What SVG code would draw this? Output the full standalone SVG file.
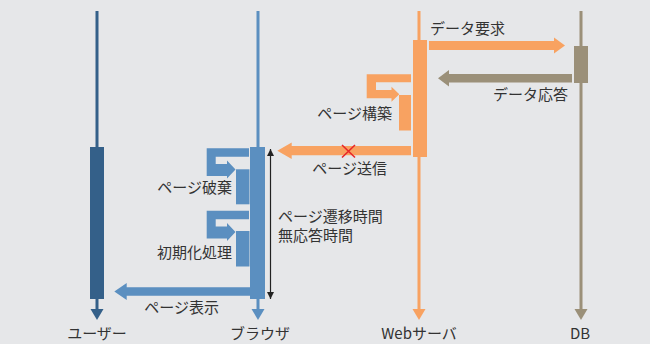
<svg xmlns="http://www.w3.org/2000/svg" width="650" height="344" viewBox="0 0 650 344">
<style>
.t{font-family:"Noto Sans CJK JP","Noto Sans",sans-serif;font-size:15px;fill:#333}
.user{fill:#346089}.userL{stroke:#346089}
.br{fill:#5b8fc0}.brL{stroke:#5b8fc0}
.web{fill:#f8a261}.webL{stroke:#f8a261}
.db{fill:#9b9079}.dbL{stroke:#9b9079}
.life{stroke-width:3;fill:none}
</style>
<defs>
<marker id="bk" viewBox="0 0 10 10" refX="10" refY="5" markerWidth="7" markerHeight="7" markerUnits="userSpaceOnUse" orient="auto-start-reverse"><path d="M0,0 L10,5 L0,10 Z" fill="#222"/></marker>
</defs>
<rect width="650" height="344" fill="#e6e7e9"/>
<g id="user">
<line class="life userL" x1="97" y1="11" x2="97" y2="311"/>
<polygon class="user" points="90.5,309 103.5,309 97,320"/>
<rect class="user" x="90" y="147" width="14" height="152"/>
<text class="t" x="97" y="339" text-anchor="middle">ユーザー</text>
</g>
<g id="browser">
<line class="life brL" x1="258" y1="11" x2="258" y2="311"/>
<polygon class="br" points="251.5,309 264.5,309 258,320"/>
<rect class="br" x="250" y="147" width="15" height="152"/>
<path class="br" d="M249,148.3 H206.7 V176 H227 V178.5 L235.5,169.5 L227,160.5 V164 H215.7 V156.7 H249 Z"/>
<rect class="br" x="236" y="169.3" width="13.5" height="35"/>
<path class="br" d="M249,210.7 H206.7 V238.5 H227 V241 L235.5,232 L227,223 V226.5 H215.7 V219.3 H249 Z"/>
<rect class="br" x="236" y="231" width="13.5" height="35.5"/>
<text class="t" x="232" y="193" text-anchor="end">ページ破棄</text>
<text class="t" x="232" y="258" text-anchor="end">初期化処理</text>
<text class="t" x="260" y="339" text-anchor="middle">ブラウザ</text>
</g>
<g id="webserver">
<line class="life webL" x1="419" y1="11" x2="419" y2="311"/>
<polygon class="web" points="412.5,309 425.5,309 419,320"/>
<rect class="web" x="413" y="40" width="14" height="117"/>
<path class="web" d="M411,74.3 H366.7 V98.3 H391.5 V101.7 L399.3,94.2 L391.5,86.7 V90 H376 V82.3 H411 Z"/>
<rect class="web" x="399" y="95" width="12" height="35.5"/>
<text class="t" x="392" y="119" text-anchor="end">ページ構築</text>
<text class="t" x="419" y="339" text-anchor="middle">Webサーバ</text>
</g>
<g id="db">
<line class="life dbL" x1="581" y1="11" x2="581" y2="311"/>
<polygon class="db" points="574.5,309 587.5,309 581,320"/>
<rect class="db" x="574" y="46" width="14" height="37"/>
<text class="t" x="580" y="339" text-anchor="middle">DB</text>
</g>
<g id="connectors">
<polygon class="web" points="429,41 554,41 554,37.5 565,45.5 554,53.5 554,50 429,50"/>
<text class="t" x="430" y="34">データ要求</text>
<polygon class="db" points="572,74 449,74 449,70 438,78.2 449,86.5 449,82.4 572,82.4"/>
<text class="t" x="568" y="100" text-anchor="end">データ応答</text>
<polygon class="web" points="411,146 291.7,146 291.7,142.5 277.3,150.7 291.7,159 291.7,155.3 411,155.3"/>
<path d="M342,145 L355,157.5 M355,145 L342,157.5" stroke="#e8262a" stroke-width="1.6" fill="none"/>
<text class="t" x="387" y="174" text-anchor="end">ページ送信</text>
<polygon class="br" points="250,287.3 126.7,287.3 126.7,283 114.3,291.5 126.7,300 126.7,295.7 250,295.7"/>
<text class="t" x="219" y="313" text-anchor="end">ページ表示</text>
<line x1="270.5" y1="149" x2="270.5" y2="299" stroke="#222" stroke-width="1.2" marker-start="url(#bk)" marker-end="url(#bk)"/>
<text class="t" x="278" y="222">ページ遷移時間</text>
<text class="t" x="278" y="241">無応答時間</text>
</g>
</svg>
